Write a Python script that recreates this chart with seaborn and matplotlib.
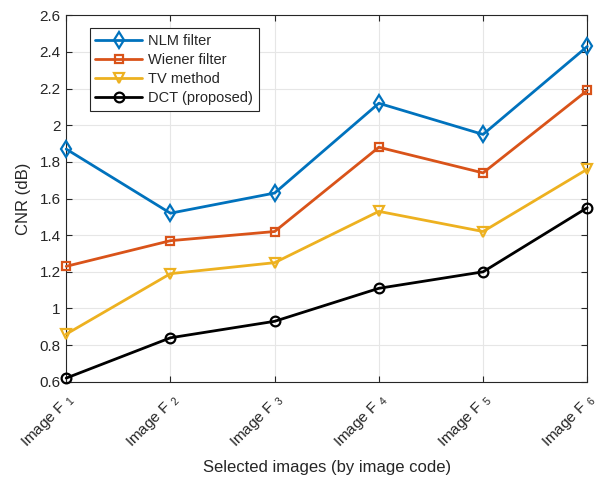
import numpy as np
import pandas as pd
import matplotlib
matplotlib.use('Agg')
import matplotlib.pyplot as plt
import seaborn as sns

# data
images = ['Image F $_{1}$', 'Image F $_{2}$', 'Image F $_{3}$',
          'Image F $_{4}$', 'Image F $_{5}$', 'Image F $_{6}$']
nlm = [1.87, 1.52, 1.63, 2.12, 1.95, 2.43]
wiener = [1.23, 1.37, 1.42, 1.88, 1.74, 2.19]
tv = [0.86, 1.19, 1.25, 1.53, 1.42, 1.76]
dct = [0.62, 0.84, 0.93, 1.11, 1.20, 1.55]

series = [
    ('NLM filter', nlm, '#0072BD', 'd', 8),
    ('Wiener filter', wiener, '#D95319', 's', 6),
    ('TV method', tv, '#EDB120', 'v', 7.5),
    ('DCT (proposed)', dct, 'black', 'o', 7),
]

sns.set_theme(style='whitegrid')
plt.rcParams['font.family'] = ['Liberation Sans', 'DejaVu Sans']
plt.rcParams['mathtext.fontset'] = 'custom'
plt.rcParams['mathtext.rm'] = 'Liberation Sans'
plt.rcParams['mathtext.it'] = 'Liberation Sans'

fig = plt.figure(figsize=(6.13, 4.79), dpi=100)
ax = fig.add_axes([0.108, 0.203, 0.85, 0.765])

x = np.arange(len(images))
for name, vals, color, marker, ms in series:
    df = pd.DataFrame({'x': x, 'y': vals})
    sns.lineplot(data=df, x='x', y='y', ax=ax, color=color, linewidth=2,
                 marker=marker, markersize=ms, markerfacecolor='none',
                 markeredgecolor=color, markeredgewidth=1.6,
                 label=name, clip_on=False, zorder=3)

ax.set_xlim(0, 5)
ax.set_ylim(0.6, 2.6)
ax.set_yticks(np.arange(0.6, 2.61, 0.2))
ax.set_yticklabels(['0.6', '0.8', '1', '1.2', '1.4', '1.6', '1.8', '2', '2.2', '2.4', '2.6'])
ax.set_xticks(x)
ax.set_xticklabels(images, rotation=45, ha='right', rotation_mode='anchor')

ax.set_xlabel('Selected images (by image code)', fontsize=12, color='#262626', labelpad=6)
ax.set_ylabel('CNR (dB)', fontsize=12, color='#262626', labelpad=6)
ax.tick_params(axis='both', labelsize=11, colors='#262626', direction='in',
               length=4, width=0.8, pad=4, top=True, right=True,
               bottom=True, left=True)
ax.tick_params(axis='x', pad=7)
for lbl in ax.get_xticklabels():
    lbl.set_x(lbl.get_position()[0])

ax.set_facecolor('white')
ax.grid(True, color='#e6e6e6', linewidth=0.8)
for sp in ax.spines.values():
    sp.set_visible(True)
    sp.set_color('#262626')
    sp.set_linewidth(0.8)

leg = ax.legend(loc='upper left', bbox_to_anchor=(0.045, 0.965), fontsize=10.5,
                handlelength=3.2, frameon=True, fancybox=False,
                borderpad=0.4, labelspacing=0.35, handletextpad=0.4,
                borderaxespad=0)
leg.get_frame().set_edgecolor('#262626')
leg.get_frame().set_linewidth(0.8)
leg.get_frame().set_alpha(1)

fig.savefig('out.png', dpi=100)
